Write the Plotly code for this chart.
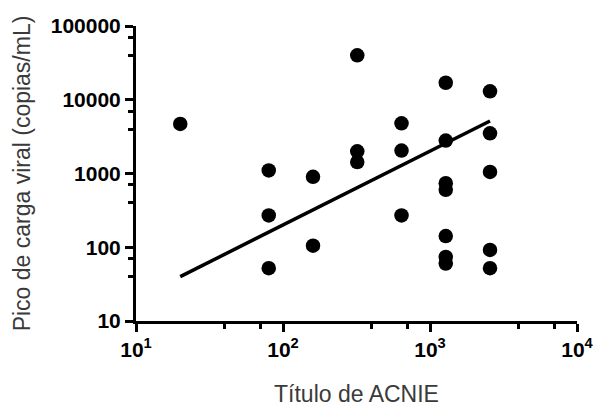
import plotly.graph_objects as go

# ACNIE titre vs peak viral load (copies/mL)
acnie_titre = [20,
               80, 80, 80,
               160, 160,
               320, 320, 320,
               640, 640, 640,
               1280, 1280, 1280, 1280, 1280, 1280, 1280,
               2560, 2560, 2560, 2560, 2560]
peak_viral_load = [4700,
                   1100, 270, 52,
                   900, 105,
                   40000, 2000, 1430,
                   4800, 2050, 270,
                   17000, 2800, 740, 600, 142, 74, 60,
                   13000, 3500, 1050, 92, 52]

# fitted regression line endpoints
fit_x = [20, 2560]
fit_y = [40, 5150]

y_tickvals = [10, 100, 1000, 10000, 100000]
y_ticktext = ["10", "100", "1000", "10000", "100000"]
x_tickvals = [10, 100, 1000, 10000]
x_ticktext = ["10<sup>1</sup>", "10<sup>2</sup>", "10<sup>3</sup>", "10<sup>4</sup>"]

x_minor = [40, 70, 400, 700, 4000, 7000]
y_minor = [40, 70, 400, 700, 4000, 7000, 40000, 70000]

fig = go.Figure()
fig.add_trace(go.Scatter(x=fit_x, y=fit_y, mode="lines",
                         line=dict(color="black", width=3.5),
                         showlegend=False, hoverinfo="skip"))
fig.add_trace(go.Scatter(x=acnie_titre, y=peak_viral_load, mode="markers",
                         marker=dict(color="black", size=14.5),
                         showlegend=False))

tick_font = dict(family="Liberation Sans", size=21, color="black", weight="bold")
title_font = dict(family="Liberation Sans", size=23, color="#3a3a3a")

fig.update_xaxes(type="log", range=[1, 4], automargin=False,
                 showline=True, linewidth=3, linecolor="black",
                 showgrid=False, zeroline=False,
                 ticks="outside", ticklen=8, tickwidth=3, tickcolor="black",
                 tickvals=x_tickvals, ticktext=x_ticktext, tickfont=tick_font,
                 minor=dict(tickvals=x_minor, ticks="outside", ticklen=5,
                            tickwidth=2.5, tickcolor="black", showgrid=False),
                 title=dict(text="Título de ACNIE", font=title_font, standoff=38))
fig.update_yaxes(type="log", range=[1, 5], automargin=False,
                 showline=True, linewidth=3, linecolor="black",
                 showgrid=False, zeroline=False,
                 ticks="outside", ticklen=8, tickwidth=3, tickcolor="black",
                 tickvals=y_tickvals, ticktext=y_ticktext, tickfont=tick_font,
                 minor=dict(tickvals=y_minor, ticks="outside", ticklen=5,
                            tickwidth=2.5, tickcolor="black", showgrid=False),
                 title=dict(text="Pico de carga viral (copias/mL)", font=title_font, standoff=14))

fig.update_layout(width=595, height=407,
                  margin=dict(l=136, r=18, t=26, b=86),
                  plot_bgcolor="white", paper_bgcolor="white")

fig.write_html("out.html")
